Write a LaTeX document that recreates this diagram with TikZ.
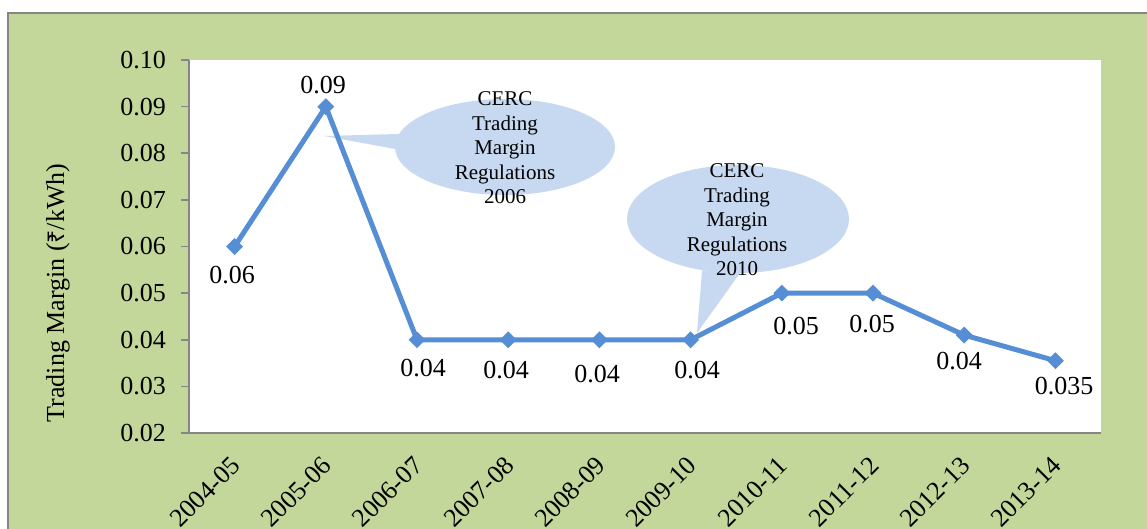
\documentclass[tikz,border=0pt]{standalone}
\usepackage{fontspec}
\setmainfont{Liberation Serif}
\newfontfamily\rupeefont{Noto Sans}
\usetikzlibrary{shapes.geometric}
\definecolor{framegreen}{RGB}{196,215,155}
\definecolor{seriesblue}{RGB}{85,142,213}
\definecolor{calloutblue}{RGB}{198,217,241}
\definecolor{axisgrey}{RGB}{134,134,134}
\begin{document}
\begin{tikzpicture}
[x=1pt,y=-1pt,
  markdecorate/.style={shape=diamond,fill=seriesblue,inner sep=0pt,minimum width=17pt,minimum height=17pt},%
  linedecorate/.style={seriesblue,line width=5pt,line join=round},%
  axisdecorate/.style={axisgrey,line width=1.5pt},%
  ticklabel/.style={anchor=east,inner sep=0pt,font=\fontsize{26}{30}\selectfont},%
  datalabel/.style={inner sep=0pt,font=\fontsize{26}{30}\selectfont},%
  yearlabel/.style={anchor=north east,rotate=45,inner sep=0pt,font=\fontsize{26}{30}\selectfont},%
  calloutdecorate/.style={shape=ellipse,fill=calloutblue,inner sep=0pt},%
  callouttext/.style={align=center,inner sep=0pt,font=\fontsize{21}{24.5}\selectfont}]
\useasboundingbox (0,0) rectangle (1147,529);
\clip (0,0) rectangle (1147,529);
%% frame and plot area
\draw[axisgrey,fill=framegreen,line width=1.5pt] (8,13) rectangle (1170,560);
\fill[white] (189,60) rectangle (1101,433);
%% callouts
\node (callA) at (505,147) [calloutdecorate,minimum width=220pt,minimum height=96pt] {};
\coordinate (tipA) at (324,136);
\fill[calloutblue] (callA.173) -- (tipA) -- (callA.181) -- cycle;
\node (callB) at (738,219) [calloutdecorate,minimum width=222pt,minimum height=108pt] {};
\coordinate (tipB) at (697,333);
\fill[calloutblue] (callB.235) -- (tipB) -- (callB.272) -- cycle;
\node (textA) at (505,148) [callouttext] {CERC\\Trading\\Margin\\Regulations\\2006};
\node (textB) at (737,220) [callouttext] {CERC\\Trading\\Margin\\Regulations\\2010};
%% axes
\coordinate (axisTop) at (189,60);
\coordinate (axisOrigin) at (189,433);
\coordinate (axisRight) at (1101,433);
\draw[axisdecorate] (axisTop) -- (axisOrigin) -- (axisRight);
\foreach \t/\ylab in {0/0.02, 1/0.03, 2/0.04, 3/0.05, 4/0.06, 5/0.07, 6/0.08, 7/0.09, 8/0.10} {
  \coordinate (tick\t) at (181,{433-46.625*\t});
  \draw[axisdecorate] (tick\t) -- ++(8,0);
  \node (ticklab\t) at (166,{433-46.625*\t}) [ticklabel] {\ylab};
}
\node (ytitle) at (58,293) [rotate=90,font=\fontsize{26}{30}\selectfont] {Trading Margin ({\rupeefont\fontsize{23}{30}\selectfont ₹}/kWh)};
%% data points
\foreach \i/\v in {1/0.06, 2/0.09, 3/0.04, 4/0.04, 5/0.04, 6/0.04, 7/0.05, 8/0.05, 9/0.041, 10/0.0355} {
  \pgfmathsetmacro\py{433-(\v-0.02)*4662.5}
  \coordinate (p\i) at ({189+91.2*(\i-0.5)},\py);
}
\draw[linedecorate] (p1) \foreach \i in {2,...,10} {-- (p\i)};
\foreach \i in {1,...,10} {
  \node (m\i) at (p\i) [markdecorate] {};
}
%% data labels
\foreach \i/\x/\y/\dlab in {1/232/275/0.06, 2/323/85/0.09, 3/423/368/0.04, 4/506/370/0.04,
  5/597/374/0.04, 6/697/370/0.04, 7/796/326/0.05, 8/872/324/0.05, 9/959/361/0.04, 10/1064/386/0.035} {
  \node (d\i) at (\x,\y) [datalabel] {\dlab};
}
%% category labels
\foreach \i/\ylab in {1/2004-05, 2/2005-06, 3/2006-07, 4/2007-08, 5/2008-09, 6/2009-10,
  7/2010-11, 8/2011-12, 9/2012-13, 10/2013-14} {
  \node (yr\i) at ({189+91.2*(\i-0.5)-5},455) [yearlabel] {\ylab};
}
\end{tikzpicture}
\end{document}
